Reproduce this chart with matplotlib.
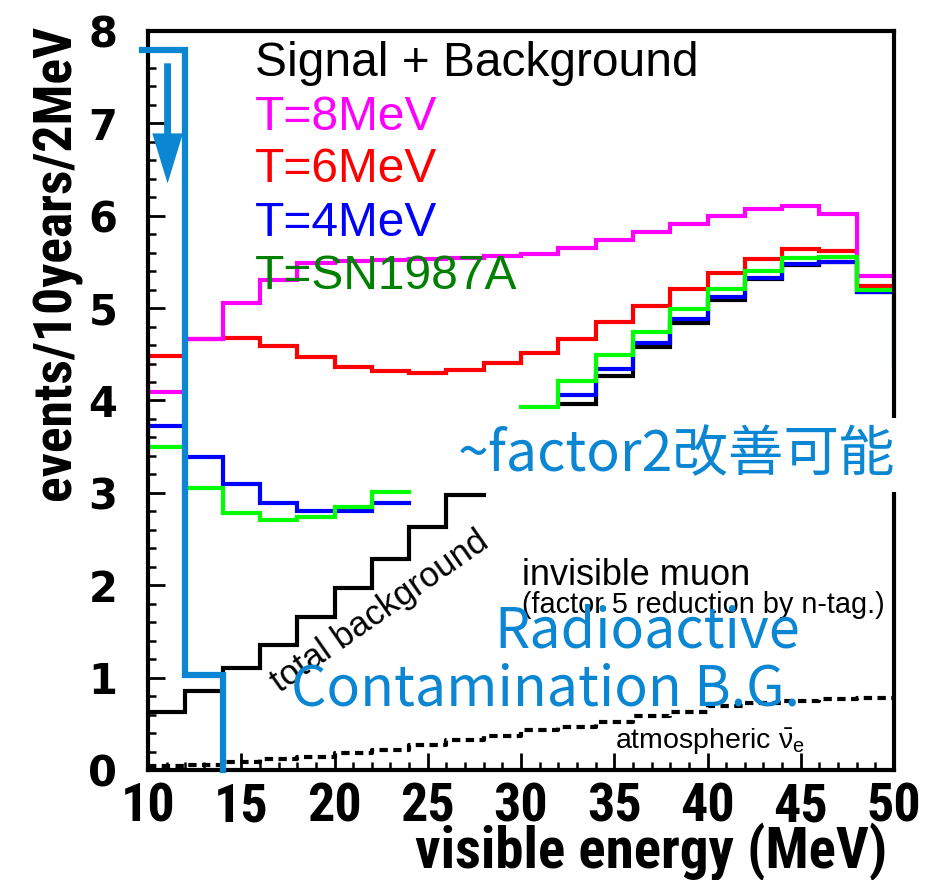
import numpy as np
import matplotlib
matplotlib.use("Agg")
import matplotlib.pyplot as plt
from matplotlib.ticker import MultipleLocator

nan = np.nan
# ---- data -------------------------------------------------------------
edges = np.arange(10, 52, 2)  # 2 MeV bins, 10..50 MeV

total_bg = [0.63, 0.85, 1.10, 1.35, 1.66, 1.97, 2.28, 2.63, 2.98, nan,
            nan, 3.96, 4.27, 4.58, 4.84, 5.09, 5.31, 5.47, 5.50, 5.17]
t8 = [4.09, 4.67, 5.06, 5.30, 5.49, 5.51, 5.52, 5.53, 5.54, 5.56,
      5.59, 5.65, 5.74, 5.82, 5.91, 6.00, 6.07, 6.11, 6.02, 5.35]
t6 = [4.48, 4.67, 4.68, 4.59, 4.47, 4.36, 4.32, 4.30, 4.33, 4.41,
      4.51, 4.67, 4.85, 5.02, 5.21, 5.38, 5.53, 5.64, 5.62, 5.24]
t4 = [3.72, 3.39, 3.10, 2.89, 2.80, 2.80, 2.89, nan, nan, nan,
      nan, 4.06, 4.34, 4.62, 4.88, 5.12, 5.33, 5.48, 5.50, 5.17]
sn1987a = [3.50, 3.05, 2.78, 2.71, 2.74, 2.85, 3.01, nan, nan, nan,
           3.93, 4.21, 4.49, 4.74, 4.99, 5.21, 5.40, 5.54, 5.55, 5.20]
atm_nue = [0.04, 0.05, 0.09, 0.12, 0.14, 0.18, 0.22, 0.27, 0.32, 0.37,
           0.43, 0.47, 0.52, 0.58, 0.63, 0.69, 0.72, 0.75, 0.77, 0.78]

# underflow / overflow bin contents visible at the frame edges
t8_under, t6_under, sn_under, sn_over = 3.27, 4.11, 4.11, 4.35

# radioactive-contamination cut (annotation step) and arrow
rc_edges = [9.7, 12, 14]
rc_values = [7.79, 1.03]
arrow_x, arrow_from, arrow_to = 11.05, 7.65, 6.35

xticks = [10, 15, 20, 25, 30, 35, 40, 45, 50]
yticks = [0, 1, 2, 3, 4, 5, 6, 7, 8]

# ---- figure -----------------------------------------------------------
plt.rcParams['mathtext.fontset'] = 'custom'
plt.rcParams['mathtext.rm'] = 'Liberation Sans'
plt.rcParams['mathtext.it'] = 'Liberation Sans'

W, H = 929, 880
fig = plt.figure(figsize=(W / 100, H / 100), dpi=100)
ax = fig.add_axes([148 / W, 1 - 770 / H, (894 - 148) / W, (770 - 31) / H])

BOLDN = ['Roboto Condensed', 'Liberation Sans', 'DejaVu Sans']
SANS = ['Liberation Sans', 'DejaVu Sans']
CJK = ['Noto Sans CJK JP', 'DejaVu Sans']
RC_BLUE = '#0a86d2'


def step_xy(vals, under=None, over=None):
    x = list(edges)
    y = list(vals) + [vals[-1]]
    if under is not None:
        x = [edges[0]] + x
        y = [under] + y
    if over is not None:
        x = x + [edges[-1]]
        y = y + [over]
    return x, y


lw = 3.0
for vals, col, u, o in [(total_bg, 'black', None, None),
                        (t6, '#ff0000', t6_under, None),
                        (t8, '#ff00ff', t8_under, None),
                        (t4, '#0000ff', None, None),
                        (sn1987a, '#00ff00', sn_under, sn_over)]:
    x, y = step_xy(vals, u, o)
    ax.plot(x, y, drawstyle='steps-post', color=col, lw=lw,
            solid_joinstyle='miter', zorder=2)

x, y = step_xy(atm_nue)
ax.plot(x, y, drawstyle='steps-post', color='black', lw=3.0,
        linestyle=(0, (2.0, 1.3)), zorder=2)

# radioactive contamination cut
rx = list(rc_edges)
ry = list(rc_values) + [0]
ax.plot(rx, ry, drawstyle='steps-post', color=RC_BLUE, lw=4.5,
        clip_on=False, zorder=4, solid_joinstyle='miter')
ax.annotate('', xy=(arrow_x, arrow_to), xytext=(arrow_x, arrow_from),
            arrowprops=dict(width=5, headwidth=22, headlength=36,
                            color=RC_BLUE, shrink=0, lw=0), zorder=4)

ax.set_xlim(10, 50)
ax.set_ylim(0, 8)
ax.set_xticks(xticks)
ax.set_yticks(yticks)
ax.xaxis.set_minor_locator(MultipleLocator(1))
ax.yaxis.set_minor_locator(MultipleLocator(0.2))
ax.tick_params(which='major', direction='in', length=12, width=2,
               top=False, right=False)
ax.tick_params(which='minor', direction='in', length=6, width=1.8,
               top=False, right=False)
ax.tick_params(axis='x', which='major', pad=8)
ax.tick_params(axis='y', which='major', pad=22)
for s in ax.spines.values():
    s.set_linewidth(3)
for lab in ax.get_xticklabels():
    lab.set_fontfamily(BOLDN)
    lab.set_fontweight('bold')
    lab.set_fontsize(39)
for lab in ax.get_yticklabels():
    lab.set_fontfamily(['DejaVu Sans'])
    lab.set_fontweight('bold')
    lab.set_fontsize(30)

fig.text(57 / W, 1 - 262 / H, 'events/10years/2MeV', rotation=90,
         ha='center', va='center', fontsize=38.8, fontweight='bold',
         family=BOLDN)
fig.text(887 / W, 1 - 868 / H, 'visible energy (MeV)', ha='right',
         va='baseline', fontsize=41, fontweight='bold', family=BOLDN)

# legend-like labels
leg = [('Signal + Background', 'black'), ('T=8MeV', '#ff00ff'),
       ('T=6MeV', '#ff0000'), ('T=4MeV', '#0000ff'),
       ('T=SN1987A', '#008000')]
for i, (t, c) in enumerate(leg):
    fig.text(255 / W, 1 - (64 + 53 * i) / H, t, color=c, fontsize=34.5,
             ha='left', va='center', family=SANS, zorder=5)

fig.text(380 / W, 1 - 612 / H, 'total background', rotation=35,
         rotation_mode='anchor', ha='center', va='center', fontsize=25,
         family=SANS)
fig.text(522 / W, 1 - 575 / H, 'invisible muon', ha='left', va='center',
         fontsize=26, family=SANS)
fig.text(522 / W, 1 - 605 / H, '(factor 5 reduction by n-tag.)', ha='left',
         va='center', fontsize=20.8, family=SANS)
fig.text(615 / W, 1 - 742 / H, r'atmospheric $\bar{\mathrm{\nu}}_\mathrm{e}$',
         ha='left', va='center', fontsize=20.5, family=SANS)

fig.text(800 / W, 1 - 632 / H, 'Radioactive', ha='right', va='center',
         fontsize=40, color=RC_BLUE, family=CJK)
fig.text(800 / W, 1 - 690 / H, 'Contamination B.G.', ha='right',
         va='center', fontsize=40, color=RC_BLUE, family=CJK)
fig.text(676 / W, 1 - 455 / H, '~factor2改善可能', ha='center', va='center',
         fontsize=40, color=RC_BLUE, family=CJK, zorder=10,
         bbox=dict(boxstyle='square,pad=0.15', facecolor='white',
                   edgecolor='none'))

fig.savefig('out.png', dpi=100)
